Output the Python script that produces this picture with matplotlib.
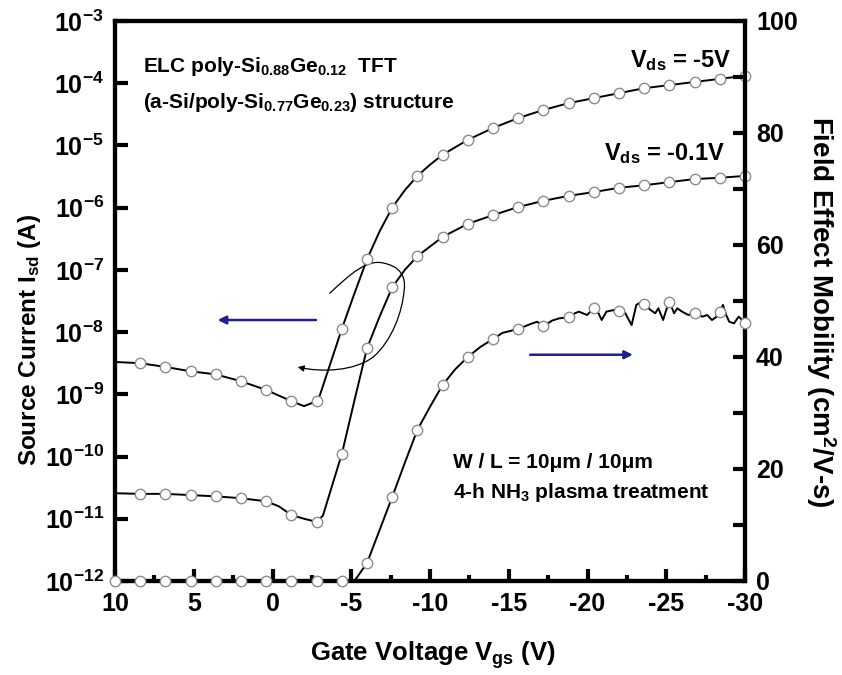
import numpy as np
import matplotlib
matplotlib.use("Agg")
import matplotlib.pyplot as plt
from matplotlib.path import Path
from matplotlib.patches import FancyArrowPatch

plt.rcParams.update({
    "font.family": "Liberation Sans",
    "font.weight": "bold",
    "axes.labelweight": "bold",
    "mathtext.fontset": "custom",
    "mathtext.rm": "Liberation Sans:bold",
    "mathtext.it": "Liberation Sans:bold",
    "mathtext.bf": "Liberation Sans:bold",
    "axes.unicode_minus": False,
})

# transfer curve at Vds = -5 V (log10 of Isd in A)
vg_5v = [10, 8.4, 6.8, 5.2, 3.6, 2.0, 0.4, -1.2, -2.0, -2.8, -3.0, -4.4, -5.2,
         -6.0, -6.8, -7.6, -8.4, -9.2, -10.0, -10.8, -12.4, -14.0, -15.6,
         -17.2, -18.8, -20.4, -22.0, -23.6, -25.2, -26.8, -28.4, -30.0]
log_isd_5v = [-8.48, -8.50, -8.56, -8.63, -8.68, -8.79, -8.93, -9.11, -9.19,
              -9.11, -9.02, -7.95, -7.38, -6.83, -6.38, -6.00, -5.72, -5.49,
              -5.31, -5.15, -4.91, -4.72, -4.56, -4.43, -4.32, -4.24, -4.16,
              -4.08, -4.03, -3.98, -3.93, -3.88]

# transfer curve at Vds = -0.1 V
vg_01v = [10, 8.4, 6.8, 5.2, 3.6, 2.0, 0.4, -0.4, -1.2, -2.0, -2.8, -3.2,
          -3.6, -4.4, -5.2, -6.0, -6.8, -7.6, -8.4, -9.2, -10.8, -12.4, -14.0,
          -15.6, -17.2, -18.8, -20.4, -22.0, -23.6, -25.2, -26.8, -28.4, -30.0]
log_isd_01v = [-10.59, -10.60, -10.60, -10.62, -10.64, -10.67, -10.72, -10.80,
               -10.94, -11.00, -11.05, -10.95, -10.62, -9.96, -9.10, -8.26,
               -7.75, -7.28, -7.00, -6.78, -6.47, -6.26, -6.12, -5.99, -5.89,
               -5.81, -5.75, -5.68, -5.64, -5.59, -5.54, -5.52, -5.49]

# field effect mobility (cm2/V-s)
vg_mu = [10, 8.4, 6.8, 5.2, 3.6, 2.0, 0.4, -1.2, -2.8, -4.4, -5.2, -6.0, -6.8,
         -7.6, -8.4, -9.2, -10.0, -10.8, -11.6, -12.4, -13.2, -14.0, -14.6,
         -15.6, -16.4, -16.8, -17.2, -17.75, -18.2, -18.8, -19.2, -19.45,
         -19.97, -20.4, -20.7, -20.9, -21.2, -21.7, -22.0, -22.4, -22.8, -23.1,
         -23.35, -23.6, -24.0, -24.3, -24.5, -24.8, -25.0, -25.2, -25.5, -25.7,
         -26.0, -26.4, -26.8, -27.3, -27.6, -27.9, -28.2, -28.4, -28.6, -28.8,
         -29.0, -29.3, -29.6, -30.0]
mu = [0, 0, 0, 0, 0, 0, 0, 0, 0, 0, 0, 3.2, 9.1,
      15.0, 21.1, 27.0, 31.1, 35.0, 37.8, 40.0, 41.8, 43.2, 44.3,
      45.0, 45.9, 46.3, 45.5, 46.5, 46.9, 47.1, 47.8, 48.1,
      47.5, 48.7, 47.8, 46.6, 48.1, 48.4, 48.3, 47.8, 45.7, 49.3,
      49.7, 49.4, 48.4, 47.8, 48.7, 46.6, 48.4, 49.9, 47.8, 48.7,
      48.1, 47.5, 47.8, 47.2, 47.5, 46.6, 47.2, 48.1, 49.3, 47.5,
      46.3, 46.0, 47.2, 46.1]

x_ticks = [10, 5, 0, -5, -10, -15, -20, -25, -30]
decades = list(range(-12, -2))
mu_ticks = [0, 20, 40, 60, 80, 100]


def marker_mask(vg, skip_first=False):
    # symbols every 1.6 V along the sweep
    steps = (10 - np.asarray(vg)) / 1.6
    mask = np.abs(steps - np.round(steps)) < 1e-6
    if skip_first:
        mask &= np.asarray(vg) < 10
    return mask


line_kw = dict(color="black", lw=1.4, marker="o", ms=7.5, mfc="white",
               mec="#8c8c8c", mew=1.0, clip_on=False, zorder=3)

fig = plt.figure(figsize=(8.42, 6.75), dpi=100)
ax = fig.add_axes([0.1366, 0.1393, 0.7482, 0.8296])
ax2 = ax.twinx()

ax.plot(vg_5v, 10.0 ** np.array(log_isd_5v),
        markevery=list(marker_mask(vg_5v, True)), **line_kw)
ax.plot(vg_01v, 10.0 ** np.array(log_isd_01v),
        markevery=list(marker_mask(vg_01v, True)), **line_kw)
ax2.plot(vg_mu, mu, markevery=list(marker_mask(vg_mu)), **line_kw)

ax.set_xlim(10, -30)
ax.set_yscale("log")
ax.set_ylim(1e-12, 1e-3)
ax.set_yticks([10.0 ** d for d in decades])
ax.set_yticklabels([r"$10^{%d}$" % d for d in decades])
ax.minorticks_off()
ax.set_xticks(x_ticks)
ax.set_xticklabels([str(t) for t in x_ticks])
ax.set_xticks(np.arange(-27.5, 10, 5), minor=True)

ax2.set_ylim(0, 100)
ax2.set_yticks(mu_ticks)
ax2.set_yticks([10, 30, 50, 70, 90], minor=True)

for a in (ax, ax2):
    for s in a.spines.values():
        s.set_linewidth(3)
ax.tick_params(axis="both", which="major", direction="in", length=9, width=3,
               labelsize=18, pad=8)
ax.tick_params(axis="x", which="minor", direction="in", length=4, width=3)
ax.tick_params(axis="y", which="both", right=False)
ax2.tick_params(axis="y", which="both", direction="in", length=9, width=3,
                labelsize=18, pad=8)

ax.set_xlabel("Gate Voltage V$_{gs}$ (V)", fontsize=18.5, va="top")
ax.xaxis.set_label_coords(0.505, -0.104)
ax.set_ylabel("Source Current I$_{sd}$ (A)", fontsize=17.5, va="center")
ax.yaxis.set_label_coords(-0.135, 0.43)
ax2.set_ylabel("Field Effect Mobility (cm$^2$/V-s)", fontsize=20,
               rotation=270, va="center")
ax2.yaxis.set_label_coords(1.12, 0.48)

t = ax.transAxes
ax.text(0.044, 0.909, "ELC poly-Si$_{0.88}$Ge$_{0.12}$  TFT", transform=t,
        fontsize=15)
ax.text(0.044, 0.845, "(a-Si/poly-Si$_{0.77}$Ge$_{0.23}$) structure",
        transform=t, fontsize=15)
ax.text(0.979, 0.918, "V$_{ds}$ = -5V", transform=t, fontsize=17, ha="right")
ax.text(0.968, 0.752, "V$_{ds}$ = -0.1V", transform=t, fontsize=17,
        ha="right")
ax.text(0.537, 0.202, "W / L = 10\u03bcm / 10\u03bcm", transform=t,
        fontsize=15)
ax.text(0.537, 0.148, "4-h NH$_3$ plasma treatment", transform=t,
        fontsize=15)

# axis pointers
navy = "#1f1f8f"
for tail, tip in [((0.319, 0.466), (0.163, 0.466)),
                  ((0.659, 0.404), (0.822, 0.404))]:
    ax.annotate("", xy=tip, xytext=tail, xycoords=t, textcoords=t,
                arrowprops=dict(arrowstyle="-|>", color=navy, lw=1.8,
                                mutation_scale=12, shrinkA=0, shrinkB=0))

# loop around the two curves, ending in an arrow pointing left
verts = [(0.341, 0.514), (0.375, 0.550), (0.400, 0.574), (0.425, 0.568),
         (0.452, 0.562), (0.462, 0.545), (0.459, 0.520),
         (0.456, 0.480), (0.440, 0.430), (0.410, 0.400),
         (0.380, 0.375), (0.330, 0.372), (0.290, 0.382)]
codes = [Path.MOVETO] + [Path.CURVE4] * 12
loop = FancyArrowPatch(path=Path(verts, codes), arrowstyle="-|>",
                       mutation_scale=9, lw=0.9, color="black",
                       transform=t, clip_on=False)
ax.add_patch(loop)

fig.savefig("out.png", dpi=100)
